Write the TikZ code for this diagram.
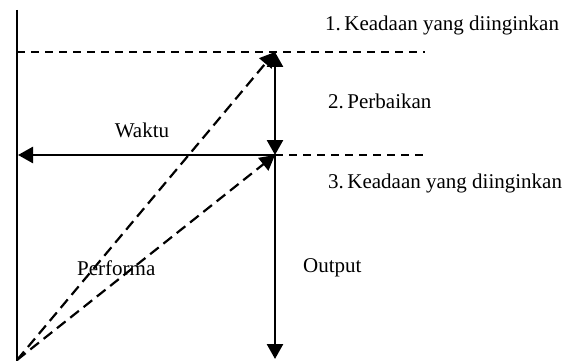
\documentclass[tikz,border=0pt]{standalone}
\usepackage{fontspec}
\setmainfont{Liberation Serif}
\usetikzlibrary{arrows.meta, positioning}

\begin{document}
\begin{tikzpicture}[
    x=1pt, y=-1pt,
    note/.style = {inner sep=0pt, font=\fontsize{21}{24}\selectfont},
    axis/.style = {line width=2pt},
    flow/.style = {line width=2.6pt, -{Triangle[length=15pt, width=16pt]}},
    guide/.style = {line width=1.8pt, dash pattern=on 8pt off 6pt},
    trend/.style = {line width=2.2pt, dash pattern=on 11pt off 6pt, -{Triangle[length=15pt, width=16pt]}}]

    \useasboundingbox (0,0) rectangle (581,361);

    % points of the chart
    \coordinate (O) at (17,360);
    \coordinate (top) at (17,10);
    \coordinate (T) at (275,52);
    \coordinate (M) at (275,155);
    \coordinate (B) at (275,359);
    \coordinate (L) at (18,155);
    \coordinate (Tend) at (425,52);
    \coordinate (Mend) at (425,155);

    \draw[axis] (top) -- (17,361);
    \draw[guide] (17,52) -- (Tend);
    \draw[guide] (M) -- (Mend);

    \draw[flow] (M) -- (L);
    \draw[flow, {Triangle[length=15pt, width=16pt]}-{Triangle[length=15pt, width=16pt]}] (T) -- (M);
    \draw[flow] (M) -- (B);

    \draw[trend] (O) -- (T);
    \draw[trend] (O) -- (M);

    \node[note, anchor=west] (s1) at (325,25) {1.\,Keadaan yang diinginkan};
    \node[note, anchor=west] (s2) at (328,101) {2.\,Perbaikan};
    \node[note, anchor=west] (s3) at (328,183) {3.\,Keadaan yang diinginkan};
    \node[note] (waktu) at (142,130) {Waktu};
    \node[note, anchor=west] (perf) at (77,268) {Performa};
    \node[note, anchor=west] (out) at (303,268) {Output};
\end{tikzpicture}
\end{document}
